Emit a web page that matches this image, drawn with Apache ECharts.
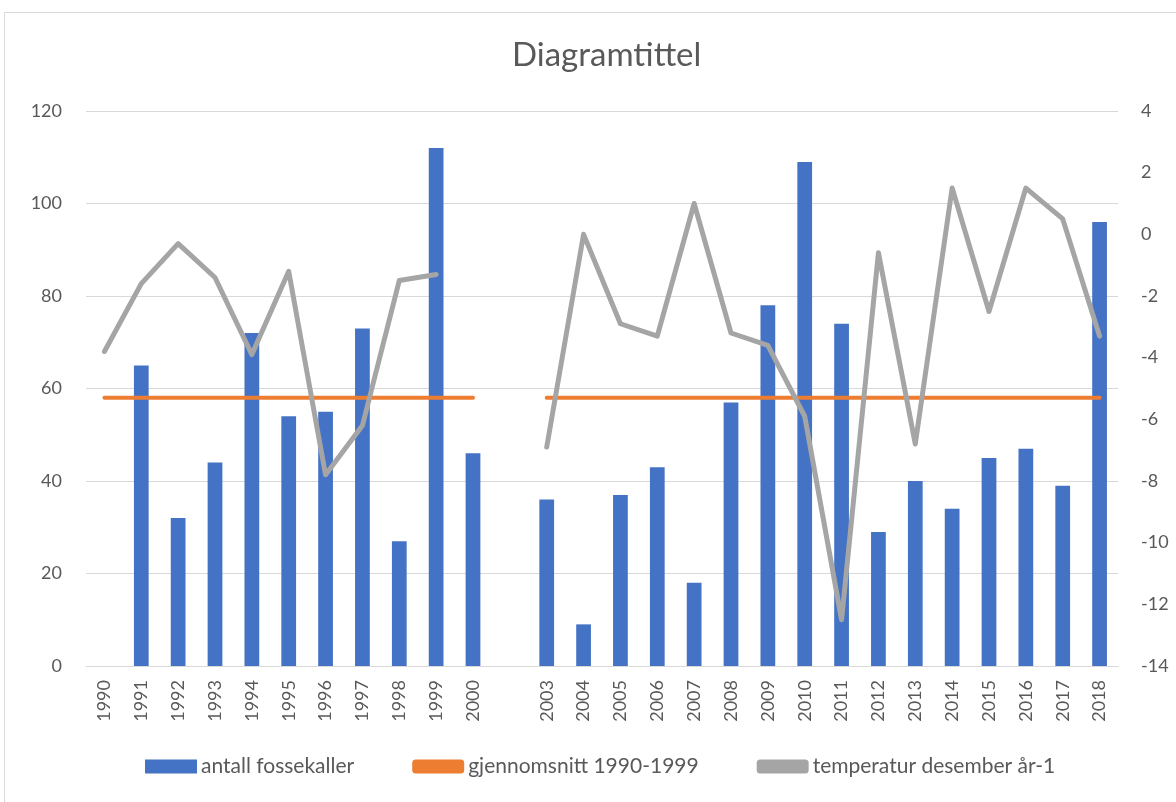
<!DOCTYPE html>
<html>
<head>
<meta charset="utf-8">
<script src="https://cdn.jsdelivr.net/npm/echarts@6/dist/echarts.min.js"></script>
<style>
  html, body { margin: 0; padding: 0; background: #fff; }
  #main { width: 1176px; height: 802px; }
</style>
</head>
<body>
<div id="main"></div>
<script>
// categories, with one empty slot between 2000 and 2003
var years = ['1990', '1991', '1992', '1993', '1994', '1995', '1996', '1997', '1998', '1999', '2000', '',
  '2003', '2004', '2005', '2006', '2007', '2008', '2009', '2010', '2011', '2012', '2013', '2014',
  '2015', '2016', '2017', '2018'];

var fossekaller = [null, 65, 32, 44, 72, 54, 55, 73, 27, 112, 46, null,
  36, 9, 37, 43, 18, 57, 78, 109, 74, 29, 40, 34, 45, 47, 39, 96];

var gjennomsnitt = [58, 58, 58, 58, 58, 58, 58, 58, 58, 58, 58, null,
  58, 58, 58, 58, 58, 58, 58, 58, 58, 58, 58, 58, 58, 58, 58, 58];

var temperatur = [-3.8, -1.6, -0.3, -1.4, -3.9, -1.2, -7.8, -6.2, -1.5, -1.3, null, null,
  -6.9, 0.0, -2.9, -3.3, 1.0, -3.2, -3.6, -5.9, -12.5, -0.6, -6.8, 1.5, -2.5, 1.5, 0.5, -3.3];

var fontName = 'Lato, "Open Sans", sans-serif';
var textColor = '#595959';

var myChart = echarts.init(document.getElementById('main'));
myChart.setOption({
  textStyle: { fontFamily: fontName },
  animation: false,
  title: {
    text: 'Diagramtittel',
    left: 507,
    top: 34,
    textStyle: { fontFamily: fontName, fontSize: 33, fontWeight: 'normal', color: textColor }
  },
  graphic: [{
    type: 'rect',
    shape: { x: 4.5, y: 12.5, width: 1300, height: 1000 },
    style: { fill: 'none', stroke: '#d9d9d9', lineWidth: 1 },
    silent: true
  }],
  legend: {
    bottom: 20,
    left: 140,
    itemGap: 58,
    itemWidth: 52,
    itemHeight: 14,
    textStyle: { fontFamily: fontName, fontSize: 21, color: textColor, padding: [0, 0, 0, -1] },
    data: [
      { name: 'antall fossekaller', icon: 'rect' },
      { name: 'gjennomsnitt 1990-1999', icon: 'roundRect' },
      { name: 'temperatur desember år-1', icon: 'roundRect' }
    ]
  },
  grid: {
    left: 86,
    right: 58,
    top: 111,
    bottom: 136
  },
  xAxis: {
    type: 'category',
    data: years,
    axisLine: { show: true, lineStyle: { color: '#d9d9d9', width: 1 } },
    axisTick: { show: false },
    axisLabel: {
      interval: 0,
      rotate: 90,
      margin: 14,
      color: textColor,
      fontSize: 18,
      fontFamily: fontName
    }
  },
  yAxis: [{
    type: 'value',
    min: 0,
    max: 120,
    interval: 20,
    axisLine: { show: false },
    axisTick: { show: false },
    splitLine: { lineStyle: { color: '#d9d9d9', width: 1 } },
    axisLabel: { color: textColor, fontSize: 18, margin: 24, fontFamily: fontName }
  }, {
    type: 'value',
    min: -14,
    max: 4,
    interval: 2,
    axisLine: { show: false },
    axisTick: { show: false },
    splitLine: { show: false },
    axisLabel: { color: textColor, fontSize: 18, margin: 23, fontFamily: fontName }
  }],
  series: [{
    name: 'antall fossekaller',
    type: 'bar',
    data: fossekaller,
    barWidth: '40%',
    itemStyle: { color: '#4472C4' }
  }, {
    name: 'gjennomsnitt 1990-1999',
    type: 'line',
    data: gjennomsnitt,
    showSymbol: false,
    symbol: 'none',
    lineStyle: { color: '#ED7D31', width: 4, cap: 'round' },
    itemStyle: { color: '#ED7D31' }
  }, {
    name: 'temperatur desember år-1',
    type: 'line',
    yAxisIndex: 1,
    data: temperatur,
    showSymbol: false,
    symbol: 'none',
    lineStyle: { color: '#A5A5A5', width: 5, cap: 'round', join: 'round' },
    itemStyle: { color: '#A5A5A5' }
  }]
});
</script>
</body>
</html>
